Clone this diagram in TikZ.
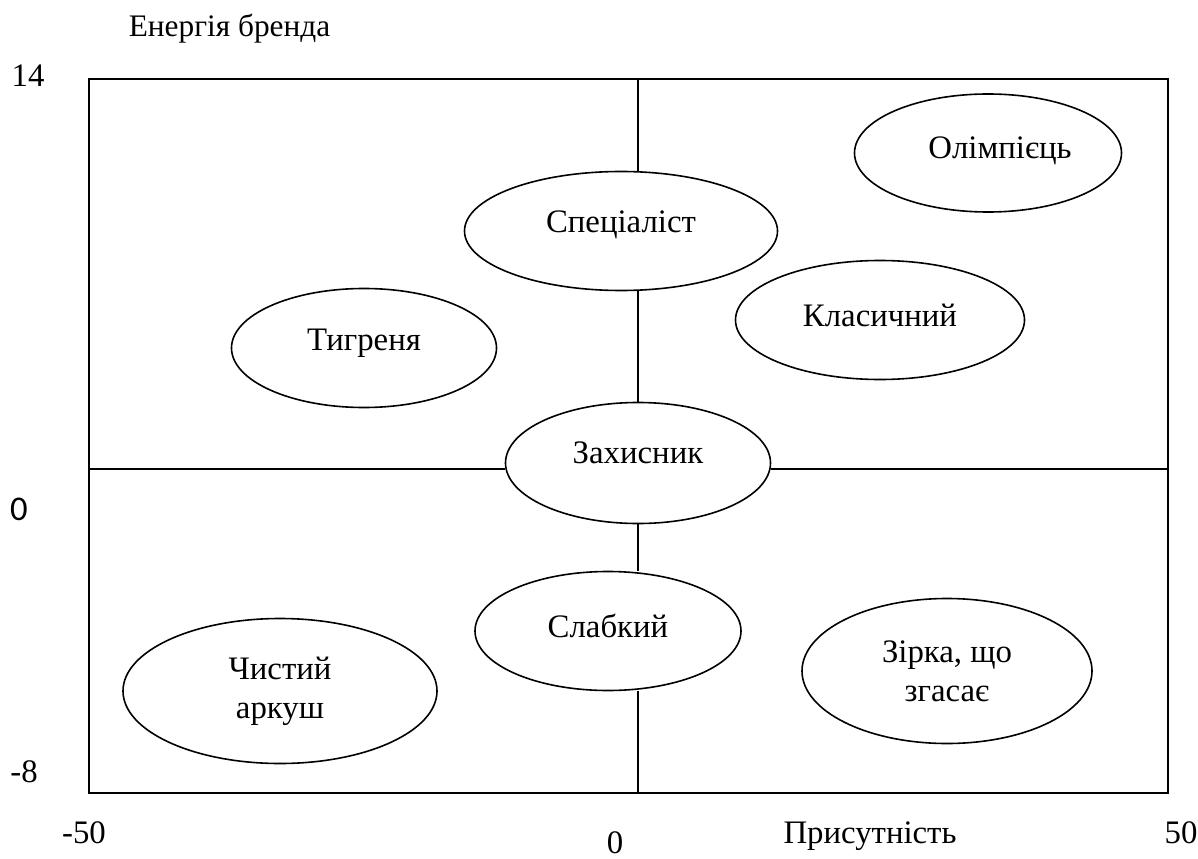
\documentclass[tikz,border=0pt]{standalone}
\usepackage{fontspec}
\setmainfont{Liberation Serif}
\newfontfamily\calfont{Carlito}
\usetikzlibrary{shapes.geometric}

\begin{document}
\begin{tikzpicture}[x=0.75pt,y=-0.75pt,line width=1.2pt,
  font=\fontsize{24.6}{29.25}\selectfont,
  oval/.style={draw,ellipse,inner sep=0pt,text height=0.7em+#1,text depth=0.7em-#1},
  oval/.default=0pt,
  oval2/.style={draw,ellipse,inner sep=0pt,align=center},
  lbl/.style={anchor=base,inner sep=0pt}]
  \useasboundingbox (0,0) rectangle (1198,859);
  \coordinate (tl) at (89,79);
  \coordinate (br) at (1168,793);
  \coordinate (vtop) at (638,79);
  \coordinate (vbot) at (638,793);
  \coordinate (hl) at (89,469);
  \coordinate (hr) at (1168,469);
  \draw (tl) rectangle (br);

  \node[oval=4.5pt,minimum width=200.25pt,minimum height=88.5pt] (olym) at (988,153) {\hspace*{18pt}Олімпієць};
  \node[oval=1.5pt,minimum width=234.75pt,minimum height=89.25pt] (spec) at (621,231) {Спеціаліст};
  \node[oval=1.5pt,minimum width=198.75pt,minimum height=89.25pt] (tigr) at (364,348) {Тигреня};
  \node[oval=4.5pt,minimum width=216.75pt,minimum height=89.25pt] (klas) at (880,320) {Класичний};
  \node[oval,minimum width=198.75pt,minimum height=90.75pt] (zakh) at (638,463) {Захисник};
  \node[oval=4.5pt,minimum width=199.5pt,minimum height=89.25pt] (slab) at (608,631) {Слабкий};
  \node[oval2,minimum width=235.5pt,minimum height=108.75pt] (chyst) at (280,691) {Чистий\\аркуш};
  \node[oval2,minimum width=217.5pt,minimum height=108.75pt] (zirka) at (947,671) {Зірка, що\\згасає};

  \draw (vtop) -- (spec.north -| vtop);
  \draw (spec.south -| vtop) -- (zakh.north -| vtop);
  \draw (zakh.south -| vtop) -- (slab.north -| vtop);
  \draw (slab.south -| vtop) -- (vbot);
  \draw (hl) -- (zakh.west |- hl);
  \draw (zakh.east |- hl) -- (hr);

  \node[lbl,anchor=base west,font=\fontsize{23.5}{28}\selectfont] (ylab) at (128,37) {Енергія бренда};
  \node[lbl] (y14) at (28,87) {14};
  \node[lbl,font=\calfont\fontsize{26}{30}\selectfont] (y0) at (19,520) {0};
  \node[lbl] (ym8) at (24,782) {-8};
  \node[lbl] (xm50) at (84,843) {-50};
  \node[lbl] (x0) at (615,853) {0};
  \node[lbl] (xlab) at (870,843) {Присутність};
  \node[lbl] (x50) at (1181,843) {50};
\end{tikzpicture}
\end{document}
